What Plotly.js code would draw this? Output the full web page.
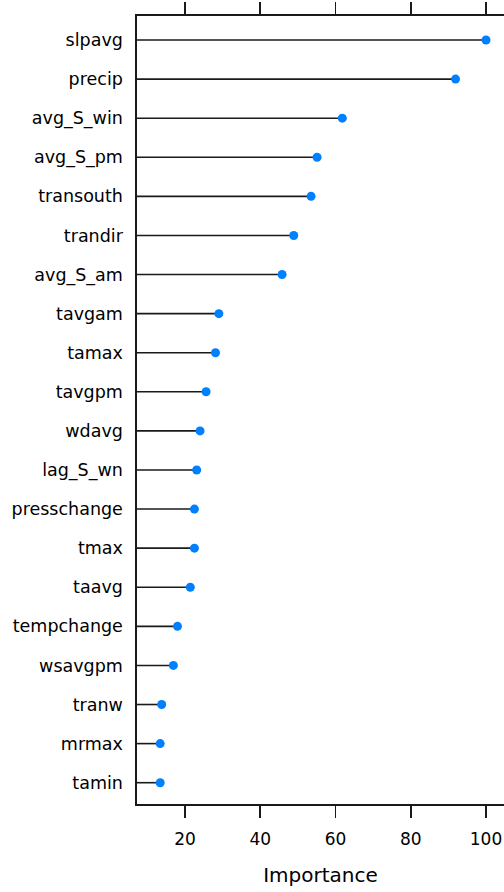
<!DOCTYPE html>
<html>
<head>
<meta charset="utf-8">
<script src="https://cdn.plot.ly/plotly-3.0.1.min.js"></script>
<style>html,body{margin:0;padding:0;background:#fff;}</style>
</head>
<body>
<div id="chart" style="width:504px;height:892px;"></div>
<script>
const variables = ["slpavg","precip","avg_S_win","avg_S_pm","transouth","trandir","avg_S_am","tavgam","tamax","tavgpm","wdavg","lag_S_wn","presschange","tmax","taavg","tempchange","wsavgpm","tranw","mrmax","tamin"];
const importance = [100, 91.9, 61.8, 55.1, 53.5, 48.9, 45.8, 29.0, 28.1, 25.6, 24.0, 23.1, 22.5, 22.5, 21.4, 18.0, 16.9, 13.8, 13.4, 13.4];
const xTicks = [20, 40, 60, 80, 100];

const XMIN = 7.24, XMAX = 104.78;
const n = variables.length;

const segX = [], segY = [];
variables.forEach((v, i) => {
  segX.push(XMIN, importance[i], null);
  segY.push(v, v, null);
});

const font = "DejaVu Sans, Liberation Sans, Arial, sans-serif";

const traces = [
  {type: "scatter", mode: "lines", x: segX, y: segY, line: {color: "#1a1a1a", width: 1.6}, hoverinfo: "skip", showlegend: false, cliponaxis: false},
  {type: "scatter", mode: "markers", x: importance, y: variables, marker: {color: "#0080ff", size: 9}, showlegend: false}
];

const layout = {
  width: 504, height: 892,
  margin: {l: 137, r: 0, t: 16, b: 88},
  paper_bgcolor: "#fff", plot_bgcolor: "#fff",
  font: {family: font, color: "#000", size: 17},
  xaxis: {
    range: [XMIN, XMAX], tickvals: xTicks, ticktext: xTicks.map(String),
    showgrid: false, zeroline: false,
    showline: true, linecolor: "#1a1a1a", linewidth: 1.6, mirror: "ticks",
    ticks: "outside", ticklen: 12, tickwidth: 1.6, tickcolor: "#1a1a1a",
    ticklabelstandoff: 7,
    tickfont: {family: font, size: 17, color: "#000"},
    title: {text: "Importance", font: {family: font, size: 20, color: "#000"}, standoff: 20},
    automargin: false, fixedrange: true
  },
  yaxis: {
    type: "category", categoryorder: "array", categoryarray: variables,
    range: [n - 0.455, -0.614],
    showgrid: false, zeroline: false,
    showline: true, linecolor: "#1a1a1a", linewidth: 1.6, mirror: false,
    ticks: "", ticklabelstandoff: 9,
    tickfont: {family: font, size: 17.5, color: "#000"},
    automargin: false, fixedrange: true
  }
};

Plotly.newPlot("chart", traces, layout, {displayModeBar: false, staticPlot: true});
</script>
</body>
</html>
